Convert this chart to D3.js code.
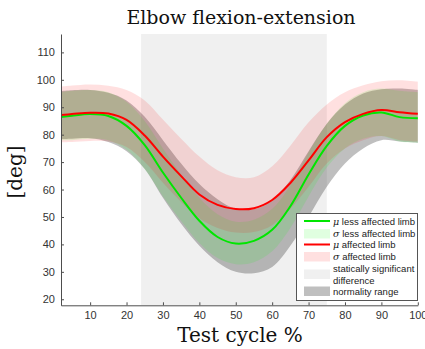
<!DOCTYPE html>
<html lang="en">
<head>
<meta charset="utf-8">
<title>Elbow flexion-extension</title>
<script src="https://cdn.jsdelivr.net/npm/d3@7/dist/d3.min.js"></script>
<style>
  body { margin: 0; background: #fff; }
  svg { display: block; }
</style>
</head>
<body>
<script>
// test cycle % sample points
var cycle = [2, 5, 10, 15, 20, 25, 30, 35, 40, 45, 50, 55, 60, 65, 70, 75, 80, 85, 90, 95, 100];

// less affected limb (green)
var lessMean = [86.4, 86.9, 87.5, 86.8, 83.2, 76.2, 66.2, 57.0, 48.6, 42.7, 40.3, 41.3, 45.3, 53.9, 65.5, 75.9, 83.2, 87.0, 88.1, 86.4, 86.0];
var lessHigh = [95.5, 96.0, 96.3, 95.5, 92.0, 85.0, 75.0, 65.5, 57.0, 51.0, 48.3, 49.0, 53.0, 61.5, 73.5, 84.0, 91.5, 95.5, 96.8, 96.0, 95.5];
var lessLow  = [78.0, 78.0, 78.5, 78.0, 74.5, 67.5, 57.5, 48.5, 40.5, 35.0, 32.8, 33.5, 37.5, 46.0, 57.5, 68.0, 75.0, 78.5, 79.5, 77.5, 77.0];

// affected limb (red)
var affMean = [87.2, 87.5, 88.0, 87.7, 85.4, 79.7, 72.0, 64.9, 58.2, 54.4, 52.9, 53.2, 56.2, 62.4, 70.6, 79.1, 84.6, 87.6, 89.0, 88.2, 87.6];
var affHigh = [97.5, 97.9, 98.3, 97.8, 96.3, 92.5, 85.5, 78.5, 72.0, 67.0, 64.5, 64.5, 68.5, 76.0, 84.5, 91.0, 95.5, 98.0, 99.5, 99.8, 99.3];
var affLow  = [77.2, 77.3, 77.7, 77.5, 75.5, 70.0, 62.5, 55.5, 49.5, 46.0, 44.3, 44.5, 47.0, 53.0, 61.0, 69.5, 75.0, 78.0, 79.5, 78.0, 77.5];

// normality range (gray)
var normHigh = [95.9, 96.2, 96.3, 95.3, 92.5, 86.5, 78.0, 69.5, 62.0, 56.5, 53.0, 52.8, 56.0, 63.5, 74.0, 84.0, 91.0, 95.0, 96.6, 96.8, 96.3];
var normLow  = [78.4, 78.5, 78.7, 77.3, 74.0, 67.5, 57.0, 47.5, 39.5, 33.5, 30.0, 29.5, 31.8, 39.5, 50.0, 61.0, 69.5, 75.0, 78.0, 77.5, 77.0];

// statistically significant difference interval
var signif = [24, 75];

var xTicks = [10, 20, 30, 40, 50, 60, 70, 80, 90, 100];
var yTicks = [20, 30, 40, 50, 60, 70, 80, 90, 100, 110];

var legendItems = [
  {sym: "\u03bc", text: " less affected limb", kind: "line", color: "#00e600"},
  {sym: "\u03c3", text: " less affected limb", kind: "patch", color: "rgba(0,255,0,0.12)"},
  {sym: "\u03bc", text: " affected limb", kind: "line", color: "#ff0000"},
  {sym: "\u03c3", text: " affected limb", kind: "patch", color: "rgba(255,0,0,0.12)"},
  {sym: "", text: "statically significant", text2: "difference", kind: "patch2", color: "#f0f0f0"},
  {sym: "", text: "normality range", kind: "patch", color: "rgba(0,0,0,0.25)"}
];

var width = 425, height = 349;
var svg = d3.select("body").append("svg")
    .attr("width", width)
    .attr("height", height);

var x = d3.scaleLinear().domain([2, 100]).range([61, 417.8]);
var y = d3.scaleLinear().domain([17.8, 116.7]).range([305.3, 34]);

svg.append("defs").append("clipPath").attr("id", "plotclip")
  .append("rect").attr("x", 61).attr("y", 34).attr("width", 357).attr("height", 271.3);

var plot = svg.append("g").attr("clip-path", "url(#plotclip)");

// significance rect
plot.append("rect")
    .attr("x", x(signif[0]))
    .attr("y", y(116.7))
    .attr("width", x(signif[1]) - x(signif[0]))
    .attr("height", y(17.8) - y(116.7))
    .attr("fill", "#f0f0f0");

var curve = d3.curveCatmullRom.alpha(0.5);

function band(lo, hi) {
  return d3.area()
      .x(function(d, i) { return x(cycle[i]); })
      .y0(function(d, i) { return y(lo[i]); })
      .y1(function(d, i) { return y(hi[i]); })
      .curve(curve)(cycle);
}
function line(vals) {
  return d3.line()
      .x(function(d, i) { return x(cycle[i]); })
      .y(function(d, i) { return y(vals[i]); })
      .curve(curve)(cycle);
}

plot.append("path").attr("d", band(normLow, normHigh)).attr("fill", "#000").attr("fill-opacity", 0.25);
plot.append("path").attr("d", band(lessLow, lessHigh)).attr("fill", "#00ff00").attr("fill-opacity", 0.12);
plot.append("path").attr("d", band(affLow, affHigh)).attr("fill", "#ff0000").attr("fill-opacity", 0.12);
plot.append("path").attr("d", line(lessMean)).attr("fill", "none").attr("stroke", "#00e600").attr("stroke-width", 2);
plot.append("path").attr("d", line(affMean)).attr("fill", "none").attr("stroke", "#ff0000").attr("stroke-width", 2);

// axes
var axisColor = "#4d4d4d";
var xAxis = svg.append("g")
    .attr("transform", "translate(0," + y(17.8) + ")")
    .call(d3.axisBottom(x).tickValues(xTicks).tickSizeInner(-3).tickSizeOuter(0).tickPadding(6));
var yAxis = svg.append("g")
    .attr("transform", "translate(" + x(2) + ",0)")
    .call(d3.axisLeft(y).tickValues(yTicks).tickSizeInner(-3).tickSizeOuter(0).tickPadding(6));

[xAxis, yAxis].forEach(function(a) {
  a.select(".domain").attr("stroke", axisColor);
  a.selectAll(".tick line").attr("stroke", axisColor);
  a.selectAll(".tick text")
      .attr("fill", "#333")
      .style("font-family", "'Liberation Sans', Arial, sans-serif")
      .style("font-size", "11px");
});

// titles
svg.append("text")
    .attr("x", 241).attr("y", 24)
    .attr("text-anchor", "middle")
    .style("font-family", "'DejaVu Serif', 'Liberation Serif', serif")
    .style("font-size", "19px")
    .attr("fill", "#111")
    .text("Elbow flexion-extension");

svg.append("text")
    .attr("x", 240).attr("y", 342)
    .attr("text-anchor", "middle")
    .style("font-family", "'DejaVu Serif', 'Liberation Serif', serif")
    .style("font-size", "20px")
    .attr("fill", "#111")
    .text("Test cycle %");

svg.append("text")
    .attr("transform", "translate(22,172) rotate(-90)")
    .attr("text-anchor", "middle")
    .style("font-family", "'DejaVu Serif', 'Liberation Serif', serif")
    .style("font-size", "20px")
    .attr("fill", "#111")
    .text("[deg]");

// legend
var lg = svg.append("g");
lg.append("rect")
    .attr("x", 296.5).attr("y", 213.5)
    .attr("width", 121).attr("height", 87)
    .attr("fill", "#fff")
    .attr("stroke", "#555")
    .attr("stroke-width", 1);

var rowY = [221, 233.5, 244.5, 256.5, 268.5, 291];
legendItems.forEach(function(d, i) {
  var cy = rowY[i];
  if (d.kind === "line") {
    lg.append("line").attr("x1", 304).attr("x2", 330).attr("y1", cy).attr("y2", cy)
        .attr("stroke", d.color).attr("stroke-width", 2);
  } else if (d.kind === "patch2") {
    lg.append("rect").attr("x", 304).attr("y", cy + 1).attr("width", 26).attr("height", 9.5)
        .attr("fill", d.color);
  } else {
    lg.append("rect").attr("x", 304).attr("y", cy - 4.5).attr("width", 26).attr("height", 9.5)
        .attr("fill", d.color);
  }
  var t = lg.append("text")
      .attr("x", 333).attr("y", cy + 3.5)
      .style("font-family", "'Liberation Sans', Arial, sans-serif")
      .style("font-size", "9.5px")
      .attr("fill", "#222");
  if (d.sym) {
    t.append("tspan").style("font-family", "'DejaVu Serif', serif").style("font-style", "italic").text(d.sym);
  }
  t.append("tspan").text(d.text);
  if (d.text2) {
    lg.append("text")
        .attr("x", 333).attr("y", cy + 15)
        .style("font-family", "'Liberation Sans', Arial, sans-serif")
        .style("font-size", "9.5px")
        .attr("fill", "#222")
        .text(d.text2);
  }
});
</script>
</body>
</html>
